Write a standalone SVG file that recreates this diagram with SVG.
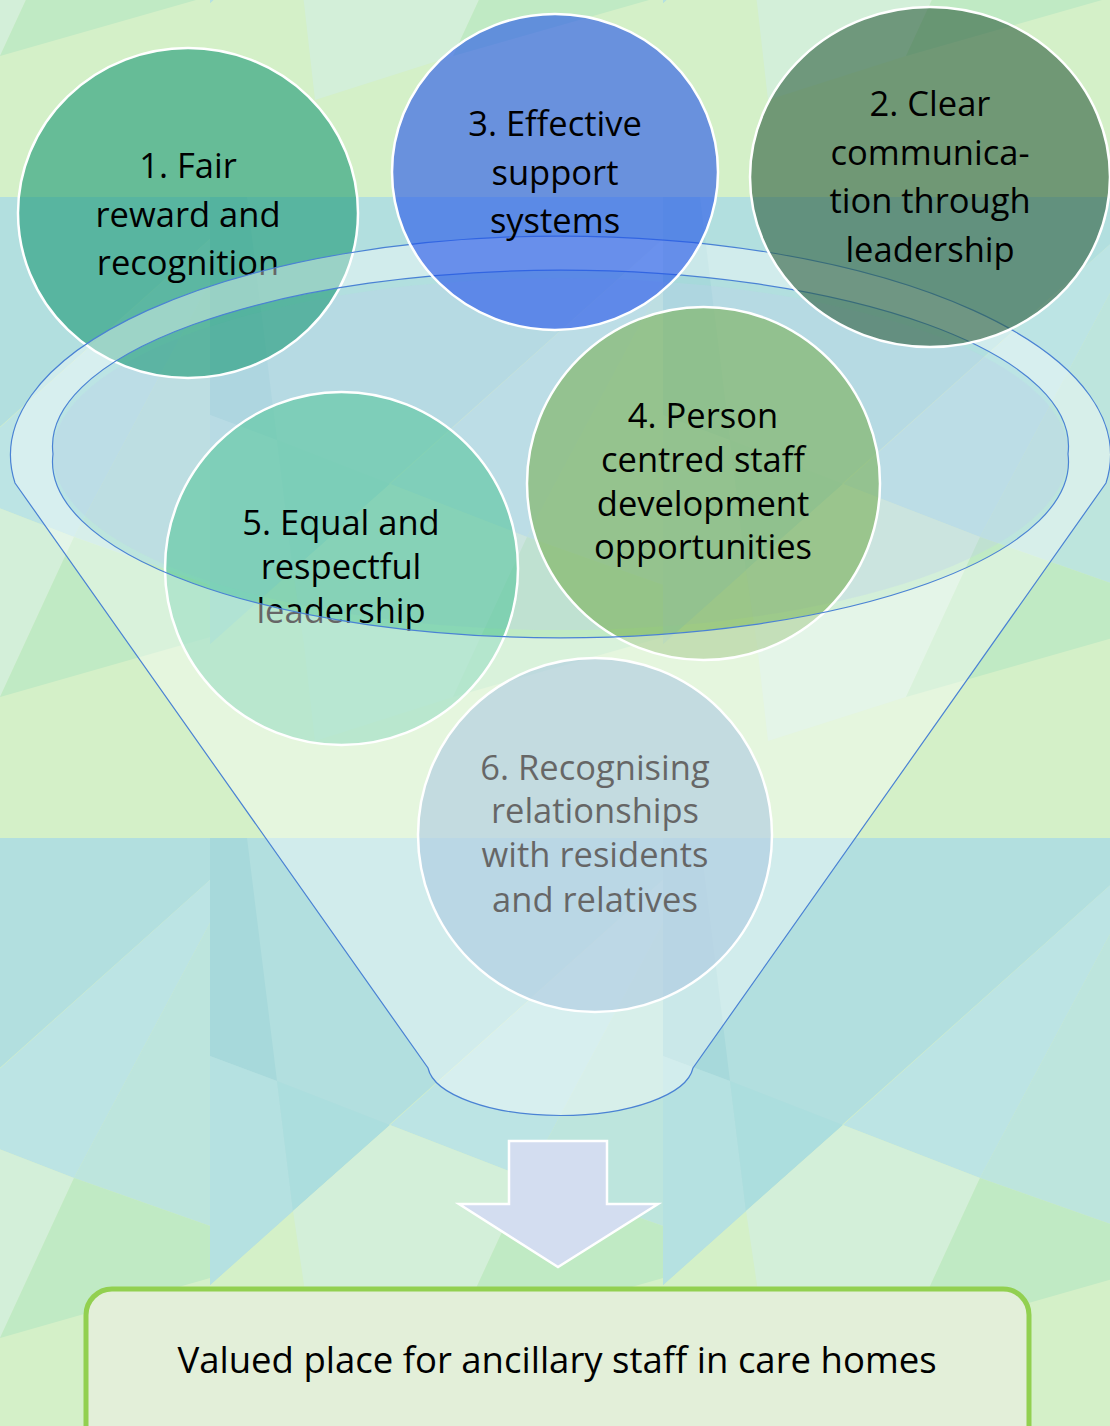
<svg xmlns="http://www.w3.org/2000/svg" width="1110" height="1426" viewBox="0 0 1110 1426">
  <defs>
    <style>
      .lbl { font-family: "Open Sans", "Liberation Sans", sans-serif; font-size: 34.5px; text-anchor: middle; fill: #000; }
      .goal { font-family: "Open Sans", "Liberation Sans", sans-serif; font-size: 36.5px; text-anchor: middle; fill: #000; }
      .node { stroke: #ffffff; stroke-width: 2.5; fill-opacity: 0.6; }
      .funnel { fill: #ffffff; fill-opacity: 0.4; fill-rule: evenodd; stroke: #4a82d4; stroke-width: 1.2; }
    </style>
    <!-- low-poly backdrop tile -->
    <pattern id="bgTile" x="210" y="197" width="453" height="641" patternUnits="userSpaceOnUse">
      <rect width="453" height="641" fill="#d4f0c8"/>
      <polygon points="0,0 453,0 453,42 0,447" fill="#b2dfdf"/>
      <polygon points="0,0 37,0 67,243 0,218" fill="#a7d9db"/>
      <polygon points="0,218 67,243 83,373 0,447" fill="#b5e1e1"/>
      <polygon points="67,243 180,287 83,373" fill="#acdede"/>
      <polygon points="180,287 453,42 453,85 317,340" fill="#bce4e4"/>
      <polygon points="453,85 453,388 317,340" fill="#bde5dd"/>
      <polygon points="83,373 180,287 317,340 243,500 105,544 94,447" fill="#d3efd9"/>
      <polygon points="317,340 453,388 453,440 243,500" fill="#c0eac4"/>
    </pattern>
  </defs>

  <rect width="1110" height="1426" fill="url(#bgTile)"/>

  <!-- mouth of the funnel, tinted -->
  <g id="funnel-mouth">
    <ellipse cx="560.5" cy="454" rx="508" ry="176" fill="#bed2eb" fill-opacity="0.35"/>
  </g>

  <!-- items that sit inside the funnel -->
  <g id="node-1">
    <ellipse class="node" cx="188" cy="213" rx="170" ry="165" fill="#1c9976"/>
    <text class="lbl" x="188" y="178">1. Fair</text>
    <text class="lbl" x="188" y="227">reward and</text>
    <text class="lbl" x="188" y="275">recognition</text>
  </g>
  <g id="node-4">
    <circle class="node" cx="703.5" cy="483.5" r="176.5" fill="#79b056"/>
    <text class="lbl" x="703" y="428">4. Person</text>
    <text class="lbl" x="703" y="472">centred staff</text>
    <text class="lbl" x="703" y="516">development</text>
    <text class="lbl" x="703" y="559">opportunities</text>
  </g>
  <g id="node-5">
    <circle class="node" cx="341.5" cy="568.5" r="176.5" fill="#59c79c"/>
    <text class="lbl" x="341" y="535">5. Equal and</text>
    <text class="lbl" x="341" y="579">respectful</text>
    <text class="lbl" x="341" y="623">leadership</text>
  </g>
  <g id="node-6">
    <circle class="node" cx="595" cy="835" r="177" fill="#75a5cd"/>
    <text class="lbl" x="595" y="780">6. Recognising</text>
    <text class="lbl" x="595" y="823">relationships</text>
    <text class="lbl" x="595" y="867">with residents</text>
    <text class="lbl" x="595" y="912">and relatives</text>
  </g>

  <!-- funnel body with open mouth -->
  <g id="funnel">
    <path class="funnel" d="M 15 483 A 550 219 0 1 1 1106 483 L 693 1068 A 133 52 0 0 1 428 1068 Z M 53 454 A 508 176 0 1 0 1068 454 A 508 176 0 1 0 53 454 Z"/>
  </g>

  <!-- items resting on the rim -->
  <g id="node-3">
    <ellipse class="node" cx="555" cy="172" rx="163" ry="158" fill="#2151eb"/>
    <text class="lbl" x="555" y="136">3. Effective</text>
    <text class="lbl" x="555" y="185">support</text>
    <text class="lbl" x="555" y="233">systems</text>
  </g>
  <g id="node-2">
    <ellipse class="node" cx="930" cy="177" rx="180" ry="170" fill="#2d5d3d"/>
    <text class="lbl" x="930" y="116">2. Clear</text>
    <text class="lbl" x="930" y="165">communica-</text>
    <text class="lbl" x="930" y="213">tion through</text>
    <text class="lbl" x="930" y="262">leadership</text>
  </g>

  <!-- down arrow into the outcome -->
  <g id="connectors">
    <path d="M 509 1141 H 607 V 1204 H 658 L 558 1267 L 459 1204 H 509 Z" fill="#d3ddf0" stroke="#ffffff" stroke-width="2.5"/>
  </g>

  <g id="outcome">
    <rect x="86" y="1289" width="943" height="170" rx="26" fill="#e3efd9" stroke="#92d050" stroke-width="5"/>
    <text class="goal" x="557" y="1373">Valued place for ancillary staff in care homes</text>
  </g>
</svg>
